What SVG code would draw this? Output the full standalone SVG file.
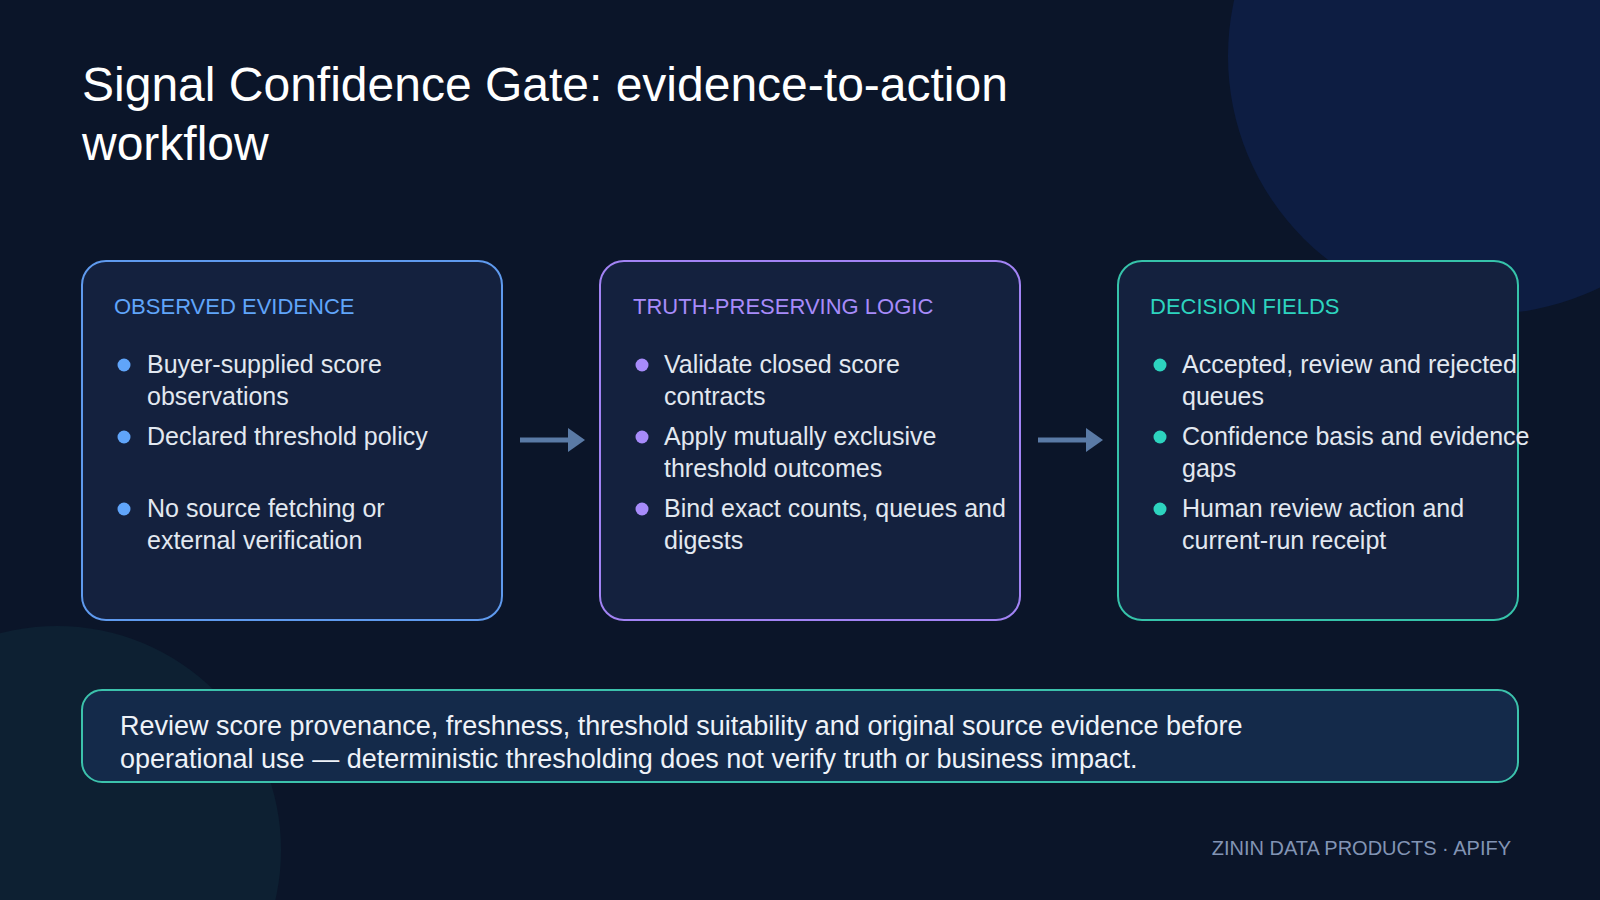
<svg xmlns="http://www.w3.org/2000/svg" width="1600" height="900" viewBox="0 0 1600 900">
  <defs>
    <style>
      .title { font-family: "Liberation Sans", Arial, sans-serif; font-size: 48px; fill: #ffffff; }
      .head { font-family: "Liberation Sans", Arial, sans-serif; font-size: 22px; }
      .body { font-family: "Liberation Sans", Arial, sans-serif; font-size: 25px; fill: #e2e8f0; }
      .note { font-family: "Liberation Sans", Arial, sans-serif; font-size: 27px; fill: #eef2f8; }
      .foot { font-family: "Liberation Sans", Arial, sans-serif; font-size: 20px; fill: #8294b4; }
      .card { fill: #14213e; stroke-width: 2; }
      .arrow-shaft { stroke: #5a7aa6; stroke-width: 5; }
      .arrow-head { fill: #5a7aa6; }
    </style>
  </defs>

  <!-- background -->
  <rect x="0" y="0" width="1600" height="900" fill="#0b1529"/>
  <circle cx="1486" cy="56" r="258" fill="#0d1d42"/>
  <circle cx="57" cy="850" r="224" fill="#0d2032"/>

  <!-- title -->
  <text class="title" x="82" y="101">Signal Confidence Gate: evidence-to-action</text>
  <text class="title" x="82" y="160">workflow</text>

  <!-- node 1 -->
  <g id="observed-evidence">
    <rect class="card" x="82" y="261" width="420" height="359" rx="24" stroke="#5f9aee"/>
    <text class="head" x="114" y="314" fill="#60a5fa">OBSERVED EVIDENCE</text>
    <circle cx="124" cy="365" r="6.5" fill="#60a5fa"/>
    <text class="body" x="147" y="373">Buyer-supplied score</text>
    <text class="body" x="147" y="405">observations</text>
    <circle cx="124" cy="437" r="6.5" fill="#60a5fa"/>
    <text class="body" x="147" y="445">Declared threshold policy</text>
    <circle cx="124" cy="509" r="6.5" fill="#60a5fa"/>
    <text class="body" x="147" y="517">No source fetching or</text>
    <text class="body" x="147" y="549">external verification</text>
  </g>

  <!-- node 2 -->
  <g id="truth-preserving-logic">
    <rect class="card" x="600" y="261" width="420" height="359" rx="24" stroke="#a283f4"/>
    <text class="head" x="633" y="314" fill="#a78bfa">TRUTH-PRESERVING LOGIC</text>
    <circle cx="642" cy="365" r="6.5" fill="#a78bfa"/>
    <text class="body" x="664" y="373">Validate closed score</text>
    <text class="body" x="664" y="405">contracts</text>
    <circle cx="642" cy="437" r="6.5" fill="#a78bfa"/>
    <text class="body" x="664" y="445">Apply mutually exclusive</text>
    <text class="body" x="664" y="477">threshold outcomes</text>
    <circle cx="642" cy="509" r="6.5" fill="#a78bfa"/>
    <text class="body" x="664" y="517">Bind exact counts, queues and</text>
    <text class="body" x="664" y="549">digests</text>
  </g>

  <!-- node 3 -->
  <g id="decision-fields">
    <rect class="card" x="1118" y="261" width="400" height="359" rx="24" stroke="#36c3aa"/>
    <text class="head" x="1150" y="314" fill="#2dd4bf">DECISION FIELDS</text>
    <circle cx="1160" cy="365" r="6.5" fill="#2dd4bf"/>
    <text class="body" x="1182" y="373">Accepted, review and rejected</text>
    <text class="body" x="1182" y="405">queues</text>
    <circle cx="1160" cy="437" r="6.5" fill="#2dd4bf"/>
    <text class="body" x="1182" y="445">Confidence basis and evidence</text>
    <text class="body" x="1182" y="477">gaps</text>
    <circle cx="1160" cy="509" r="6.5" fill="#2dd4bf"/>
    <text class="body" x="1182" y="517">Human review action and</text>
    <text class="body" x="1182" y="549">current-run receipt</text>
  </g>

  <!-- connectors -->
  <g id="connectors">
    <line class="arrow-shaft" x1="520" y1="440" x2="569" y2="440"/>
    <polygon class="arrow-head" points="568,428 585,440 568,452"/>
    <line class="arrow-shaft" x1="1038" y1="440" x2="1087" y2="440"/>
    <polygon class="arrow-head" points="1086,428 1103,440 1086,452"/>
  </g>

  <!-- note -->
  <g id="note">
    <rect x="82" y="690" width="1436" height="92" rx="20" fill="#142a4a" stroke="#3cc2ac" stroke-width="2"/>
    <text class="note" x="120" y="735">Review score provenance, freshness, threshold suitability and original source evidence before</text>
    <text class="note" x="120" y="768">operational use — deterministic thresholding does not verify truth or business impact.</text>
  </g>

  <!-- footer -->
  <text class="foot" x="1511" y="855" text-anchor="end">ZININ DATA PRODUCTS · APIFY</text>
</svg>
